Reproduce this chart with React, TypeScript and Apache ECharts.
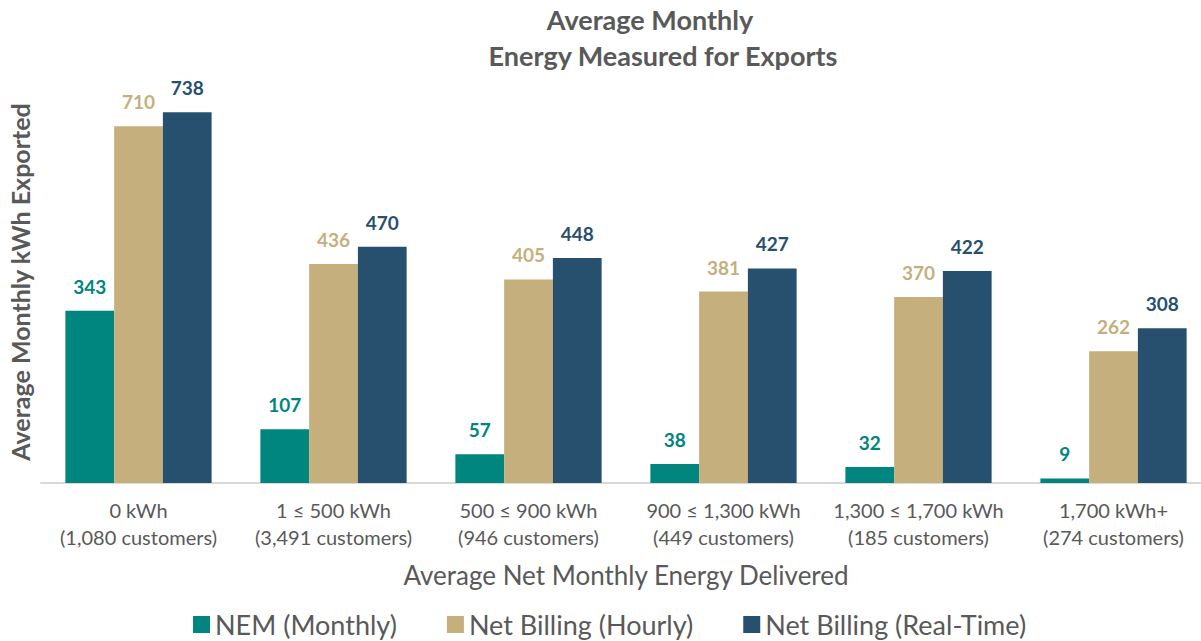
import React, { useEffect, useRef } from "react";
import * as echarts from "echarts";

const categories = [
  "0 kWh\n(1,080 customers)",
  "1 ≤ 500 kWh\n(3,491 customers)",
  "500 ≤ 900 kWh\n(946 customers)",
  "900 ≤ 1,300 kWh\n(449 customers)",
  "1,300 ≤ 1,700 kWh\n(185 customers)",
  "1,700 kWh+\n(274 customers)",
];
const nemMonthly = [343, 107, 57, 38, 32, 9];
const netBillingHourly = [710, 436, 405, 381, 370, 262];
const netBillingRealTime = [738, 470, 448, 427, 422, 308];

const seriesNames = ["NEM (Monthly)", "Net Billing (Hourly)", "Net Billing (Real-Time)"];
const colors = ["#00857F", "#C5AF7D", "#26506E"];
const FONT = "Lato, 'Open Sans', sans-serif";
const GRAY = "#595959";

export default function App() {
  const ref = useRef<HTMLDivElement>(null);
  useEffect(() => {
    if (!ref.current) return;
    const chart = echarts.init(ref.current, undefined, { renderer: "svg" });
    const data = [nemMonthly, netBillingHourly, netBillingRealTime];
    chart.setOption({
      animation: false,
      textStyle: { fontFamily: FONT },
      graphic: [
        {
          type: "text",
          x: 650,
          y: 19,
          style: {
            text: "Average Monthly",
            font: `bold 27px ${FONT}`,
            fill: GRAY,
            textAlign: "center",
            textVerticalAlign: "middle",
          },
        },
        {
          type: "text",
          x: 663,
          y: 55,
          style: {
            text: "Energy Measured for Exports",
            font: `bold 27px ${FONT}`,
            fill: GRAY,
            textAlign: "center",
            textVerticalAlign: "middle",
          },
        },
      ],
      legend: {
        top: 606,
        left: 188,
        icon: "rect",
        itemWidth: 17,
        itemHeight: 17,
        itemGap: 50,
        textStyle: { fontSize: 27, color: GRAY, fontFamily: FONT },
        data: seriesNames,
      },
      grid: {
        left: 41,
        width: 1170,
        top: 81,
        bottom: 158,
        containLabel: false,
        outerBoundsMode: "none",
      },
      xAxis: {
        type: "category",
        data: categories,
        axisLine: { show: true, lineStyle: { color: "#D9D9D9", width: 2 } },
        axisTick: { show: false },
        axisLabel: {
          fontSize: 20,
          lineHeight: 27,
          color: GRAY,
          margin: 13,
          fontFamily: FONT,
          interval: 0,
        },
        name: "Average Net Monthly Energy Delivered",
        nameLocation: "middle",
        nameGap: 79,
        nameTextStyle: { fontSize: 26, color: GRAY, fontFamily: FONT },
      },
      yAxis: {
        type: "value",
        min: 0,
        max: 800,
        axisLabel: { show: false },
        axisLine: { show: false },
        axisTick: { show: false },
        splitLine: { show: false },
        name: "Average Monthly kWh Exported",
        nameLocation: "middle",
        nameGap: 9,
        nameRotate: 90,
        nameTextStyle: { fontSize: 25, fontWeight: "bold", color: GRAY, fontFamily: FONT },
      },
      series: seriesNames.map((name, i) => ({
        name,
        type: "bar",
        data: data[i],
        barGap: "0%",
        barCategoryGap: "25%",
        itemStyle: { color: colors[i] },
        label: {
          show: true,
          position: "top",
          distance: 15,
          color: colors[i],
          fontWeight: "bold",
          fontSize: 19,
          fontFamily: FONT,
        },
      })),
    });
    return () => chart.dispose();
  }, []);
  return (
    <div
      ref={ref}
      style={{ position: "absolute", left: 0, top: 0, width: 1201, height: 641 }}
    />
  );
}
